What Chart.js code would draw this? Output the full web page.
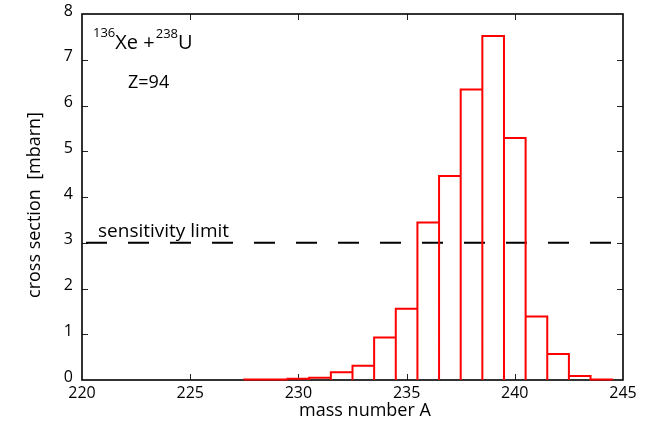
<!DOCTYPE html>
<html>
<head>
<meta charset="utf-8">
<title>Cross section vs mass number</title>
<script src="https://cdn.jsdelivr.net/npm/chart.js@4/dist/chart.umd.min.js"></script>
<style>
  html, body { margin: 0; padding: 0; background: #fff; }
  #wrap { width: 660px; height: 425px; }
</style>
</head>
<body>
<div id="wrap"><canvas id="chart" width="660" height="425"></canvas></div>
<script>
// Mass numbers of the isotopes (histogram bins, one unit wide)
const massNumbers = [228, 229, 230, 231, 232, 233, 234, 235, 236, 237, 238, 239, 240, 241, 242, 243, 244];
// Cross section per isotope in mbarn
const crossSections = [0.01, 0.01, 0.03, 0.05, 0.17, 0.31, 0.93, 1.56, 3.44, 4.46, 6.35, 7.52, 5.29, 1.39, 0.57, 0.09, 0.01];
// Detection threshold in mbarn
const sensitivityLimit = 3;
// Axis range and tick labels
const xRange = [220, 245];
const yRange = [0, 8];
const xTickValues = [220, 225, 230, 235, 240, 245];
const yTickValues = [0, 1, 2, 3, 4, 5, 6, 7, 8];

const FONT = '"Open Sans", "DejaVu Sans", sans-serif';
const INK = '#000';

// Outline of every bin: left edge up, across the top, right edge down
const histogramOutline = [];
massNumbers.forEach((a, i) => {
  const left = a - 0.5, right = a + 0.5, v = crossSections[i];
  histogramOutline.push({x: left, y: 0}, {x: left, y: v}, {x: right, y: v}, {x: right, y: 0});
});

const limitLine = [{x: xRange[0], y: sensitivityLimit}, {x: xRange[1], y: sensitivityLimit}];

// Frame around the plot area with inward ticks on all four sides
const framePlugin = {
  id: 'frame',
  beforeDatasetsDraw(chart) {
    const {ctx, chartArea: a, scales: {x, y}} = chart;
    ctx.save();
    ctx.strokeStyle = '#222';
    ctx.lineWidth = 1;
    const tick = 6;
    ctx.beginPath();
    xTickValues.forEach(v => {
      if (v === xRange[0] || v === xRange[1]) return;
      const px = Math.round(x.getPixelForValue(v)) + 0.5;
      ctx.moveTo(px, a.bottom); ctx.lineTo(px, a.bottom - tick);
      ctx.moveTo(px, a.top); ctx.lineTo(px, a.top + tick);
    });
    yTickValues.forEach(v => {
      if (v === yRange[0] || v === yRange[1]) return;
      const py = Math.round(y.getPixelForValue(v)) + 0.5;
      ctx.moveTo(a.left, py); ctx.lineTo(a.left + tick, py);
      ctx.moveTo(a.right, py); ctx.lineTo(a.right - tick, py);
    });
    ctx.stroke();
    ctx.lineWidth = 1.6;
    ctx.strokeStyle = '#000';
    ctx.strokeRect(a.left, a.top, a.right - a.left, a.bottom - a.top);
    ctx.restore();
  },
  afterDraw(chart) {
    const {ctx} = chart;
    ctx.save();
    ctx.fillStyle = INK;
    ctx.textBaseline = 'alphabetic';
    ctx.textAlign = 'left';

    // Reaction label with mass-number superscripts
    let cx = 93;
    const base = 49;
    ctx.font = '13px ' + FONT;
    ctx.fillText('136', cx, 37);
    cx += ctx.measureText('136').width;
    ctx.font = '20px ' + FONT;
    ctx.fillText('Xe +', cx, base);
    cx += ctx.measureText('Xe +').width + 1;
    ctx.font = '13px ' + FONT;
    ctx.fillText('238', cx, 38);
    cx += ctx.measureText('238').width;
    ctx.font = '20px ' + FONT;
    ctx.fillText('U', cx, base);

    ctx.font = '18px ' + FONT;
    ctx.fillText('Z=94', 128, 88);

    ctx.font = '19px ' + FONT;
    ctx.fillText('sensitivity limit', 98, 237);

    // Axis titles
    ctx.font = '18px ' + FONT;
    ctx.textAlign = 'center';
    ctx.fillText('mass number A', 365, 416);
    ctx.translate(35, 205);
    ctx.rotate(-Math.PI / 2);
    ctx.textBaseline = 'middle';
    ctx.fillText('cross section  [mbarn]', 0, 0);
    ctx.restore();
  }
};

new Chart(document.getElementById('chart'), {
  type: 'line',
  data: {
    datasets: [
      {
        label: 'cross section',
        data: histogramOutline,
        borderColor: '#ff0000',
        borderWidth: 2,
        pointRadius: 0,
        tension: 0,
        fill: false,
        clip: 4
      },
      {
        label: 'sensitivity limit',
        data: limitLine,
        borderColor: '#000',
        borderWidth: 2,
        borderDash: [21, 21],
        borderDashOffset: 38,
        pointRadius: 0,
        fill: false,
        clip: 4
      }
    ]
  },
  options: {
    responsive: false,
    animation: false,
    devicePixelRatio: 1,
    layout: { padding: { left: 0, right: 37, top: 14, bottom: 0 } },
    plugins: { legend: { display: false }, tooltip: { enabled: false } },
    scales: {
      x: {
        type: 'linear',
        min: xRange[0],
        max: xRange[1],
        afterBuildTicks(scale) { scale.ticks = xTickValues.map(v => ({value: v})); },
        afterFit(scale) { scale.height = 45; scale.paddingLeft = 0; scale.paddingRight = 0; },
        grid: { display: false, drawTicks: false },
        border: { display: false },
        ticks: { color: INK, font: { family: FONT, size: 16 }, padding: 4, maxRotation: 0 }
      },
      y: {
        type: 'linear',
        min: yRange[0],
        max: yRange[1],
        afterBuildTicks(scale) { scale.ticks = yTickValues.map(v => ({value: v})); },
        afterFit(scale) { scale.width = 82; scale.paddingTop = 0; scale.paddingBottom = 0; },
        grid: { display: false, drawTicks: false },
        border: { display: false },
        ticks: { color: INK, font: { family: FONT, size: 16 }, padding: 9, labelOffset: -3 }
      }
    }
  },
  plugins: [framePlugin]
});
</script>
</body>
</html>
